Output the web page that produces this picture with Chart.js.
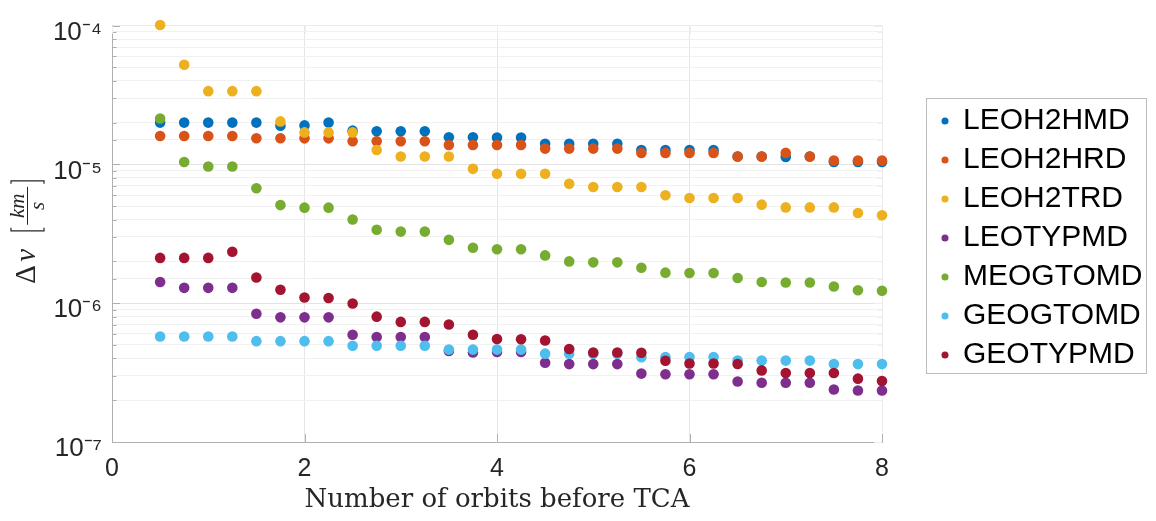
<!DOCTYPE html>
<html><head><meta charset="utf-8">
<script src="https://cdn.jsdelivr.net/npm/chart.js@4/dist/chart.umd.min.js"></script>
<style>html,body{margin:0;padding:0;background:#fff;} #wrap{width:1156px;height:521px;}</style>
</head><body><div id="wrap"><canvas id="c" width="1156" height="521"></canvas></div>
<script>
// ---------------- data ----------------
const orbits = [0.5,0.75,1,1.25,1.5,1.75,2,2.25,2.5,2.75,3,3.25,3.5,3.75,4,4.25,4.5,4.75,5,5.25,5.5,5.75,6,6.25,6.5,6.75,7,7.25,7.5,7.75,8];
const LEOH2HMD = [2.0e-5,2.0e-5,2.0e-5,2.0e-5,2.0e-5,1.90e-5,1.91e-5,2.0e-5,1.75e-5,1.73e-5,1.73e-5,1.73e-5,1.57e-5,1.57e-5,1.56e-5,1.56e-5,1.41e-5,1.41e-5,1.41e-5,1.41e-5,1.27e-5,1.27e-5,1.27e-5,1.27e-5,1.14e-5,1.14e-5,1.13e-5,1.14e-5,1.04e-5,1.04e-5,1.04e-5];
const LEOH2HRD = [1.60e-5,1.60e-5,1.60e-5,1.60e-5,1.545e-5,1.545e-5,1.54e-5,1.54e-5,1.47e-5,1.47e-5,1.47e-5,1.47e-5,1.38e-5,1.38e-5,1.38e-5,1.38e-5,1.30e-5,1.30e-5,1.30e-5,1.30e-5,1.21e-5,1.21e-5,1.21e-5,1.21e-5,1.14e-5,1.14e-5,1.21e-5,1.14e-5,1.065e-5,1.065e-5,1.065e-5];
const LEOH2TRD = [1.01e-4,5.22e-5,3.37e-5,3.37e-5,3.37e-5,2.04e-5,1.70e-5,1.70e-5,1.70e-5,1.27e-5,1.14e-5,1.14e-5,1.14e-5,9.29e-6,8.56e-6,8.56e-6,8.56e-6,7.26e-6,6.88e-6,6.88e-6,6.88e-6,6.0e-6,5.72e-6,5.72e-6,5.72e-6,5.13e-6,4.9e-6,4.9e-6,4.9e-6,4.47e-6,4.30e-6];
const LEOTYPMD = [1.42e-6,1.29e-6,1.29e-6,1.29e-6,8.40e-7,7.91e-7,7.91e-7,7.91e-7,5.92e-7,5.70e-7,5.70e-7,5.70e-7,4.53e-7,4.41e-7,4.45e-7,4.45e-7,3.72e-7,3.64e-7,3.64e-7,3.64e-7,3.11e-7,3.08e-7,3.08e-7,3.08e-7,2.73e-7,2.67e-7,2.67e-7,2.67e-7,2.39e-7,2.35e-7,2.35e-7];
const MEOGTOMD = [2.14e-5,1.04e-5,9.65e-6,9.65e-6,6.73e-6,5.09e-6,4.88e-6,4.88e-6,4.01e-6,3.38e-6,3.28e-6,3.28e-6,2.86e-6,2.51e-6,2.45e-6,2.45e-6,2.21e-6,2.0e-6,1.97e-6,1.97e-6,1.80e-6,1.66e-6,1.65e-6,1.65e-6,1.52e-6,1.42e-6,1.41e-6,1.41e-6,1.32e-6,1.24e-6,1.23e-6];
const GEOGTOMD = [5.75e-7,5.75e-7,5.75e-7,5.75e-7,5.33e-7,5.33e-7,5.33e-7,5.33e-7,4.94e-7,4.94e-7,4.94e-7,4.94e-7,4.63e-7,4.63e-7,4.63e-7,4.63e-7,4.33e-7,4.33e-7,4.33e-7,4.33e-7,4.08e-7,4.1e-7,4.1e-7,4.1e-7,3.86e-7,3.86e-7,3.86e-7,3.86e-7,3.64e-7,3.64e-7,3.64e-7];
const GEOTYPMD = [2.12e-6,2.12e-6,2.12e-6,2.35e-6,1.53e-6,1.25e-6,1.10e-6,1.09e-6,9.96e-7,8.0e-7,7.33e-7,7.33e-7,7.02e-7,5.92e-7,5.52e-7,5.5e-7,5.39e-7,4.68e-7,4.41e-7,4.41e-7,4.4e-7,3.85e-7,3.68e-7,3.68e-7,3.65e-7,3.28e-7,3.14e-7,3.14e-7,3.14e-7,2.86e-7,2.75e-7];

const seriesNames = ['LEOH2HMD','LEOH2HRD','LEOH2TRD','LEOTYPMD','MEOGTOMD','GEOGTOMD','GEOTYPMD'];
const seriesValues = [LEOH2HMD,LEOH2HRD,LEOH2TRD,LEOTYPMD,MEOGTOMD,GEOGTOMD,GEOTYPMD];
const seriesColors = ['#0072BD','#D95319','#EDB120','#7E2F8E','#77AC30','#4DBEEE','#A2142F'];
const xTickValues = [0,2,4,6,8];
const yTickDecades = [1e-7,1e-6,1e-5,1e-4];
const xTitle = 'Number of orbits before TCA';

// ---------------- helpers ----------------
const SUP = {'-':'\u207B','0':'\u2070','1':'\u00B9','2':'\u00B2','3':'\u00B3','4':'\u2074','5':'\u2075','6':'\u2076','7':'\u2077','8':'\u2078','9':'\u2079'};
function isDecade(v){ const l = Math.log10(v); return Math.abs(l - Math.round(l)) < 1e-6; }
function decadeLabel(v){ const e = String(Math.round(Math.log10(v))); return '10' + e.split('').map(c => SUP[c]).join(''); }

const datasets = seriesNames.map((name, i) => ({
  label: name,
  data: orbits.map((x, j) => ({x: x, y: seriesValues[i][j]})),
  backgroundColor: seriesColors[i],
  borderColor: seriesColors[i],
  borderWidth: 0,
  pointRadius: 5.3,
  pointHoverRadius: 5.3,
  pointStyle: 'circle',
  showLine: false,
  clip: false,
  order: seriesNames.length - i
}));

const layoutPlugin = {
  id: 'layoutFix',
  beforeLayout(chart){
    const lg = chart.legend;
    if (lg && !lg._wrapped) {
      const f = lg.fit.bind(lg);
      lg.fit = function(){ f(); this.width = 274; };
      lg._wrapped = true;
    }
  },
  afterLayout(chart){
    const lg = chart.legend;
    if (lg) { lg.left = 933; lg.top = 97; }
  }
};

const axisDeco = {
  id: 'axisDeco',
  beforeDatasetsDraw(chart){
    const ctx = chart.ctx, a = chart.chartArea, ys = chart.scales.y, xs = chart.scales.x;
    ctx.save();
    ctx.lineWidth = 1;
    ys.ticks.forEach(t => {
      if (t.value < 1e-7*0.999 || t.value > 1e-4*1.001) return;
      const p = Math.round(ys.getPixelForValue(t.value)) + 0.5;
      const L = isDecade(t.value) ? 8 : 4.5;
      ctx.strokeStyle = '#b0b0b0';
      ctx.beginPath(); ctx.moveTo(a.left, p); ctx.lineTo(a.left + L, p); ctx.stroke();
      ctx.strokeStyle = '#eeeeee';
      ctx.beginPath(); ctx.moveTo(a.right, p); ctx.lineTo(a.right - L, p); ctx.stroke();
    });
    xs.ticks.forEach(t => {
      const p = Math.round(xs.getPixelForValue(t.value)) + 0.5;
      ctx.strokeStyle = '#b0b0b0';
      ctx.beginPath(); ctx.moveTo(p, a.bottom); ctx.lineTo(p, a.bottom - 8); ctx.stroke();
      ctx.strokeStyle = '#eeeeee';
      ctx.beginPath(); ctx.moveTo(p, a.top); ctx.lineTo(p, a.top + 8); ctx.stroke();
    });
    ctx.restore();
  },
  afterDraw(chart){
    const ctx = chart.ctx, a = chart.chartArea;
    ctx.save();
    // legend frame
    ctx.strokeStyle = '#bcbcbc'; ctx.lineWidth = 1;
    ctx.strokeRect(926.5, 98.5, 220, 275);
    // y-axis title: Δv [km/s]
    const cy = (a.top + a.bottom) / 2 - 2;
    ctx.translate(27, cy);
    ctx.rotate(-Math.PI / 2);
    ctx.fillStyle = '#262626';
    ctx.strokeStyle = '#262626';
    ctx.textBaseline = 'middle';
    ctx.textAlign = 'left';
    ctx.font = '29px "Liberation Serif"';
    ctx.fillText('\u0394', -52, 0);
    ctx.font = 'italic 29px "Liberation Serif"';
    ctx.fillText('v', -30, 0);
    // brackets
    ctx.lineWidth = 1.2;
    ctx.beginPath();
    ctx.moveTo(4, -16); ctx.lineTo(1, -16); ctx.lineTo(1, 17); ctx.lineTo(4, 17);
    ctx.moveTo(48, -16); ctx.lineTo(51, -16); ctx.lineTo(51, 17); ctx.lineTo(48, 17);
    ctx.stroke();
    // fraction
    ctx.lineWidth = 1;
    ctx.beginPath(); ctx.moveTo(7, 0.5); ctx.lineTo(45, 0.5); ctx.stroke();
    ctx.textAlign = 'center';
    ctx.font = 'italic 21px "Liberation Serif"';
    ctx.textBaseline = 'alphabetic';
    ctx.fillText('km', 26, -3);
    ctx.textBaseline = 'top';
    ctx.fillText('s', 26, 1);
    ctx.restore();
  }
};

new Chart(document.getElementById('c'), {
  type: 'scatter',
  data: { datasets },
  plugins: [layoutPlugin, axisDeco],
  options: {
    responsive: false,
    animation: false,
    events: [],
    layout: { padding: { top: 21, left: 0, right: 0, bottom: 0 } },
    plugins: {
      tooltip: { enabled: false },
      legend: {
        position: 'right',
        align: 'start',
        reverse: true,
        labels: {
          usePointStyle: true,
          pointStyle: 'circle',
          boxWidth: 6,
          boxHeight: 5,
          padding: 9,
          color: '#000000',
          font: { family: '"Liberation Sans", Arial, sans-serif', size: 30 }
        }
      }
    },
    scales: {
      x: {
        type: 'linear',
        min: 0, max: 8,
        afterFit(s){ s.height = 79; },
        afterBuildTicks(s){ s.ticks = xTickValues.map(v => ({value: v})); },
        ticks: {
          padding: 12,
          color: '#262626',
          font: { family: '"Liberation Sans", Arial, sans-serif', size: 25 },
          callback: v => String(v)
        },
        grid: {
          drawTicks: false,
          color: c => (c.tick && c.tick.value === 8) ? '#ececec' : '#e6e6e6'
        },
        border: { color: '#b0b0b0', width: 1 },
        title: {
          display: true,
          text: xTitle,
          color: '#262626',
          font: { family: '"DejaVu Serif", serif', size: 26 },
          padding: { top: 0, bottom: 5 }
        }
      },
      y: {
        type: 'logarithmic',
        min: 1e-7, max: 1e-4,
        afterFit(s){ s.width = 112; },
        ticks: {
          autoSkip: false,
          padding: 10,
          labelOffset: 7,
          color: '#262626',
          font: { family: '"Liberation Sans", Arial, sans-serif', size: 26 },
          callback: (v) => (yTickDecades.some(d => Math.abs(d - v) / d < 1e-6) ? decadeLabel(v) : '')
        },
        grid: {
          drawTicks: false,
          color: c => {
            const v = c.tick ? c.tick.value : 1;
            if (Math.abs(v - 1e-4) / 1e-4 < 1e-6) return '#ececec';
            return isDecade(v) ? '#e3e3e3' : '#f1f1f1';
          }
        },
        border: { color: '#b0b0b0', width: 1 }
      }
    }
  }
});
</script>
</body></html>
